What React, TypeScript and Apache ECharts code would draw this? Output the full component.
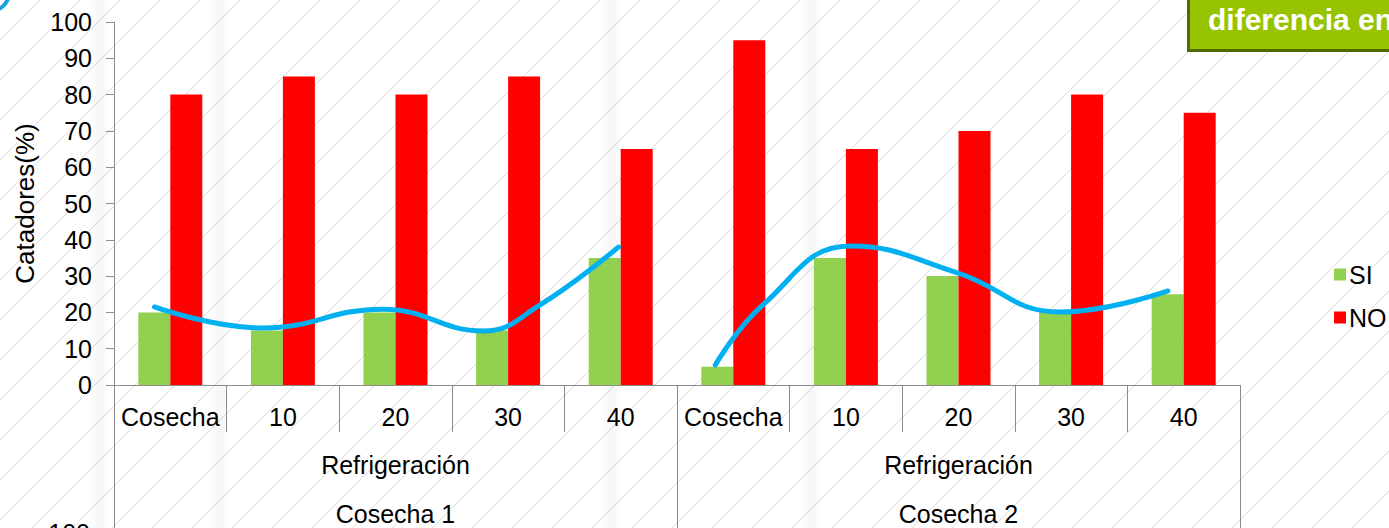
import React, { useEffect, useRef } from "react";
import * as echarts from "echarts";

const categories = ["Cosecha", "10", "20", "30", "40", "Cosecha", "10", "20", "30", "40"];
const groupLabels = ["Refrigeración", "Refrigeración"];
const harvestLabels = ["Cosecha 1", "Cosecha 2"];
const siValues = [20, 15, 20, 15, 35, 5, 35, 30, 20, 25];
const noValues = [80, 85, 80, 85, 65, 95, 65, 70, 80, 75];
// hand-drawn trend curve, positions in category units (0..10) and %
const curve1 = [[0.36, 21.5], [1.32, 15.7], [2.39, 20.9], [3.28, 14.9], [3.78, 22.0], [4.48, 38.0]];
const curve2 = [[5.34, 5.5], [5.76, 22.0], [6.54, 38.3], [7.49, 30.9], [8.4, 20.1], [9.36, 25.9]];

const FONT = "Liberation Sans, Arial, sans-serif";
const FS = 25;

export default function App() {
  const ref = useRef<HTMLDivElement>(null);
  useEffect(() => {
    const chart = echarts.init(ref.current!, null, { renderer: "svg" });
    const W = 1389, H = 528;
    const bg: any[] = [];
    for (let x0 = -H; x0 < W + 40; x0 += 40) {
      bg.push({
        type: "line",
        silent: true,
        z: -10,
        shape: { x1: x0, y1: H, x2: x0 + H, y2: 0 },
        style: { stroke: "#dadada", lineWidth: 1 },
      });
    }
    const bands = [88, 208, 600, 800];
    bands.forEach((bx) => {
      bg.push({
        type: "rect",
        silent: true,
        z: -9,
        shape: { x: bx, y: 0, width: 22, height: H },
        style: {
          fill: new echarts.graphic.LinearGradient(0, 0, 1, 0, [
            { offset: 0, color: "rgba(0,0,0,0)" },
            { offset: 0.6, color: "rgba(0,0,0,0.035)" },
            { offset: 1, color: "rgba(0,0,0,0)" },
          ]),
        },
      });
    });
    const graphic: any[] = [
      ...bg,
      {
        type: "rect",
        z: 5,
        shape: { x: 1187, y: -5, width: 210, height: 57 },
        style: { fill: "#4f6a00" },
      },
      {
        type: "rect",
        z: 6,
        shape: { x: 1190, y: -5, width: 210, height: 54 },
        style: { fill: "#97c300" },
      },
      {
        type: "text",
        z: 7,
        x: 1208,
        y: 4,
        style: { text: "diferencia en", fill: "#ffffff", font: "bold 30px " + FONT },
      },
      {
        type: "ring",
        z: 5,
        shape: { cx: -12, cy: -10, r: 24, r0: 20 },
        style: { fill: "#1ca3e0" },
      },
      {
        type: "text",
        z: 5,
        x: 90,
        y: 520,
        style: { text: "100", fill: "#000", font: FS + "px " + FONT, align: "right" },
      },
    ];

    chart.setOption({
      animation: false,
      backgroundColor: "#ffffff",
      textStyle: { fontFamily: FONT },
      graphic,
      grid: { left: 114, right: 149, top: 22, bottom: 143, containLabel: false },
      legend: {
        data: ["SI", "NO"],
        orient: "vertical",
        left: 1329,
        top: 257,
        itemWidth: 12,
        itemHeight: 12,
        itemGap: 18,
        icon: "rect",
        textStyle: { fontSize: FS, color: "#000", fontFamily: FONT, lineHeight: 25, padding: [0, 0, 0, -2] },
      },
      xAxis: [
        {
          type: "category",
          data: categories,
          position: "bottom",
          axisLine: { show: true, lineStyle: { color: "#8c8c8c", width: 1 } },
          axisTick: { show: true, length: 47, lineStyle: { color: "#8c8c8c" } },
          axisLabel: { fontSize: FS, color: "#000", margin: 19, fontFamily: FONT, interval: 0 },
        },
        {
          type: "category",
          data: harvestLabels,
          position: "bottom",
          gridIndex: 0,
          axisLine: { show: false },
          axisTick: { show: true, length: 150, lineStyle: { color: "#8c8c8c" } },
          axisLabel: { fontSize: FS, color: "#000", margin: 116, fontFamily: FONT },
        },
        {
          type: "category",
          data: groupLabels,
          position: "bottom",
          axisLine: { show: false },
          axisTick: { show: false },
          axisLabel: { fontSize: FS, color: "#000", margin: 67, fontFamily: FONT },
        },
        {
          type: "value",
          min: 0,
          max: 10,
          show: false,
        },
      ],
      yAxis: {
        type: "value",
        min: 0,
        max: 100,
        interval: 10,
        name: "Catadores(%)",
        nameLocation: "middle",
        nameGap: 76,
        nameRotate: 90,
        nameTextStyle: { fontSize: 26, color: "#000", fontFamily: FONT },
        axisLine: { show: true, lineStyle: { color: "#8c8c8c" } },
        axisTick: { show: true, length: 8, lineStyle: { color: "#8c8c8c" } },
        axisLabel: { fontSize: FS, color: "#000", margin: 22, fontFamily: FONT },
        splitLine: { show: false },
      },
      series: [
        {
          name: "SI",
          type: "bar",
          xAxisIndex: 0,
          data: siValues,
          barWidth: 32,
          barGap: "0%",
          itemStyle: { color: "#92d050" },
        },
        {
          name: "NO",
          type: "bar",
          xAxisIndex: 0,
          data: noValues,
          barWidth: 32,
          barGap: "0%",
          itemStyle: { color: "#ff0000" },
        },
        {
          name: "trend1",
          type: "line",
          xAxisIndex: 3,
          data: curve1,
          smooth: 0.45,
          symbol: "none",
          z: 5,
          lineStyle: { color: "#00b0f0", width: 5, cap: "round" },
        },
        {
          name: "trend2",
          type: "line",
          xAxisIndex: 3,
          data: curve2,
          smooth: 0.45,
          symbol: "none",
          z: 5,
          lineStyle: { color: "#00b0f0", width: 5, cap: "round" },
        },
      ],
    });
    return () => chart.dispose();
  }, []);
  return (
    <div
      ref={ref}
      style={{ position: "fixed", left: 0, top: 0, width: 1389, height: 528 }}
    />
  );
}
